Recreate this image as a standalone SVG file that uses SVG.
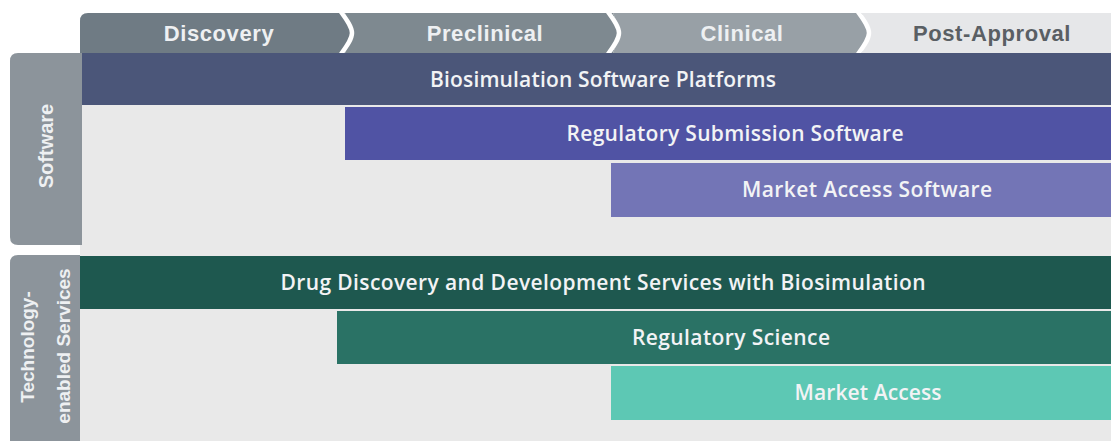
<svg xmlns="http://www.w3.org/2000/svg" width="1111" height="441" viewBox="0 0 1111 441">
  <style>
    .phase { font-family: "Liberation Sans", Arial, sans-serif; font-weight: 700; font-size: 22px; letter-spacing: 0.6px; text-anchor: middle; }
    .phase-dark { fill: #eef0f2; }
    .phase-light { fill: #5a5f64; }
    .tab { fill: #8c949b; }
    .tab-label { font-family: "Liberation Sans", Arial, sans-serif; font-weight: 700; font-size: 19px; fill: #eef0f2; text-anchor: middle; }
    .bar-label { font-family: "Open Sans", "Noto Sans", sans-serif; font-weight: 600; font-size: 21px; fill: #f2f3f5; text-anchor: middle; }
    .sep { fill: none; stroke: #ffffff; stroke-width: 4.5; stroke-linejoin: round; stroke-linecap: round; }
  </style>

  <!-- page background -->
  <rect x="0" y="0" width="1111" height="441" fill="#ffffff"/>
  <rect x="80" y="53" width="1031" height="388" fill="#e9e9e9"/>

  <!-- phase header -->
  <g id="phases">
    <path d="M80 21 Q80 13 88 13 L345 13 L353 33 L345 53 L80 53 Z" fill="#6f7b84"/>
    <path d="M345 13 L613 13 L621 33 L613 53 L345 53 L353 33 Z" fill="#7e8990"/>
    <path d="M613 13 L862 13 L870 33 L862 53 L613 53 L621 33 Z" fill="#98a0a6"/>
    <path d="M862 13 L1111 13 L1111 53 L862 53 L870 33 Z" fill="#e6e7e9"/>
    <path class="sep" d="M341 12 C347 20 352 27 352 33 C352 39 347 46 341 54"/>
    <path class="sep" d="M608 12 C614 20 619 27 619 33 C619 39 614 46 608 54"/>
    <path class="sep" d="M858 12 C864 20 869 27 869 33 C869 39 864 46 858 54"/>
    <text class="phase phase-dark" x="219" y="41">Discovery</text>
    <text class="phase phase-dark" x="485" y="41">Preclinical</text>
    <text class="phase phase-dark" x="742" y="41">Clinical</text>
    <text class="phase phase-light" x="992" y="41">Post-Approval</text>
  </g>

  <!-- row group labels -->
  <g id="software-tab">
    <path class="tab" d="M18 53 L82 53 L82 245 L18 245 Q10 245 10 237 L10 61 Q10 53 18 53 Z"/>
    <text class="tab-label" transform="translate(53 146) rotate(-90)" style="font-size:20px">Software</text>
  </g>
  <g id="services-tab">
    <path class="tab" d="M18 255 L80 255 L80 441 L10 441 L10 263 Q10 255 18 255 Z"/>
    <text class="tab-label" transform="translate(34 347) rotate(-90)">Technology-</text>
    <text class="tab-label" transform="translate(70 346) rotate(-90)">enabled Services</text>
  </g>

  <!-- software offerings -->
  <g id="biosimulation-platforms">
    <rect x="82" y="53" width="1029" height="52" fill="#4b5679"/>
    <text class="bar-label" x="603" y="87" textLength="346">Biosimulation Software Platforms</text>
  </g>
  <g id="regulatory-submission">
    <rect x="345" y="107" width="766" height="53" fill="#5053a4"/>
    <text class="bar-label" x="735" y="141" textLength="337">Regulatory Submission Software</text>
  </g>
  <g id="market-access-software">
    <rect x="611" y="163" width="500" height="54" fill="#7375b6"/>
    <text class="bar-label" x="867" y="197" textLength="250">Market Access Software</text>
  </g>

  <!-- technology-enabled services -->
  <g id="drug-discovery-services">
    <rect x="80" y="256" width="1031" height="53" fill="#1e584f"/>
    <text class="bar-label" x="603" y="290" textLength="645">Drug Discovery and Development Services with Biosimulation</text>
  </g>
  <g id="regulatory-science">
    <rect x="337" y="311" width="774" height="53" fill="#2a7265"/>
    <text class="bar-label" x="731" y="345" textLength="198">Regulatory Science</text>
  </g>
  <g id="market-access">
    <rect x="611" y="366" width="500" height="54" fill="#5dc8b4"/>
    <text class="bar-label" x="868" y="400" textLength="147">Market Access</text>
  </g>

  <!-- no connectors in this chart -->
  <g id="connectors"/>
</svg>
